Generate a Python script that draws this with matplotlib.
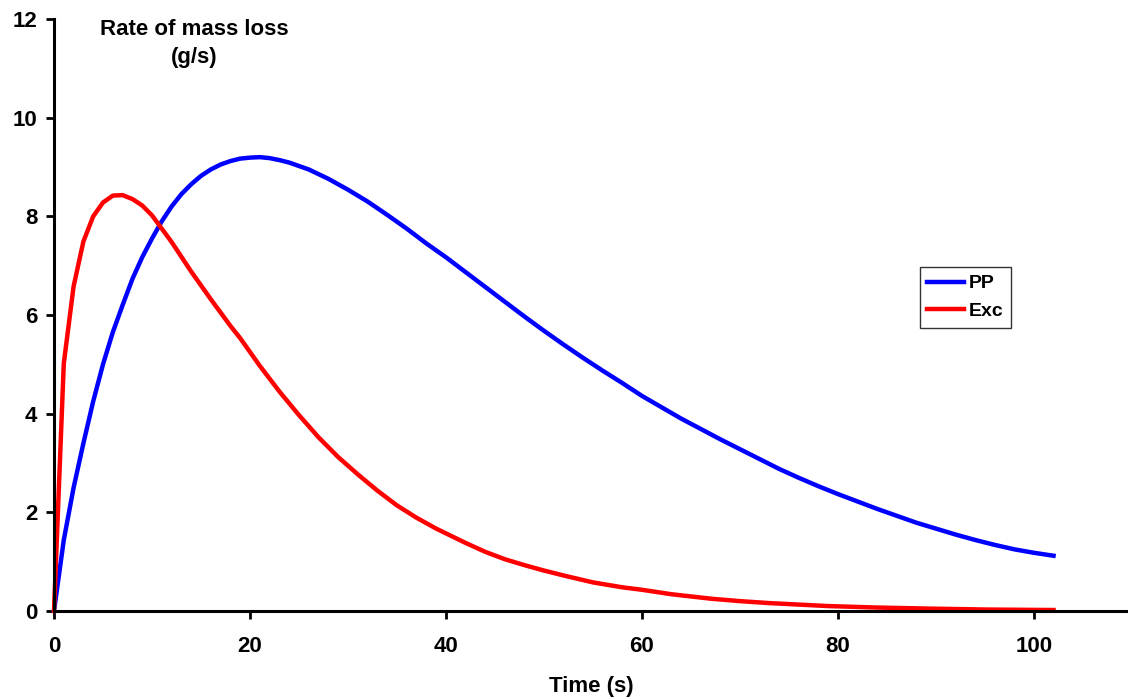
import matplotlib
matplotlib.use("Agg")
import matplotlib.pyplot as plt

plt.rcParams['font.family'] = ['Liberation Sans', 'DejaVu Sans']
plt.rcParams['font.weight'] = 'bold'

# PP series (time in s, rate in g/s)
pp_time = [0, 1, 2, 3, 4, 5, 6, 7, 8, 9, 10, 11, 12, 13, 14, 15, 16, 17, 18,
           19, 20, 21, 22, 23, 24, 26, 28, 30, 32, 34, 36, 38, 40, 42, 44, 46,
           48, 50, 52, 54, 56, 58, 60, 62, 64, 66, 68, 70, 72, 74, 76, 78, 80,
           82, 84, 86, 88, 90, 92, 94, 96, 98, 100, 102]
pp_rate = [0, 1.44, 2.5, 3.4, 4.25, 5.0, 5.65, 6.2, 6.73, 7.17, 7.55, 7.9,
           8.2, 8.45, 8.65, 8.82, 8.95, 9.05, 9.12, 9.17, 9.19, 9.2, 9.18,
           9.14, 9.09, 8.95, 8.76, 8.54, 8.3, 8.03, 7.75, 7.45, 7.17, 6.87,
           6.57, 6.27, 5.97, 5.68, 5.4, 5.13, 4.87, 4.62, 4.36, 4.13, 3.9,
           3.69, 3.48, 3.28, 3.08, 2.88, 2.7, 2.53, 2.37, 2.22, 2.07, 1.93,
           1.79, 1.67, 1.55, 1.44, 1.34, 1.25, 1.18, 1.12]

# Exc series
exc_time = [0, 1, 2, 3, 4, 5, 6, 7, 8, 9, 10, 11, 12, 13, 14, 15, 16, 17, 18,
            19, 21, 23, 25, 27, 29, 31, 33, 35, 37, 39, 42, 44, 46, 48, 50,
            52, 55, 58, 60, 63, 67, 70, 73, 76, 79, 84, 89, 95, 102]
exc_rate = [0, 5.02, 6.58, 7.49, 8.0, 8.28, 8.42, 8.43, 8.35, 8.22, 8.02, 7.75,
            7.48, 7.18, 6.88, 6.6, 6.32, 6.05, 5.78, 5.53, 4.97, 4.45, 3.97,
            3.52, 3.12, 2.77, 2.44, 2.14, 1.89, 1.67, 1.38, 1.2, 1.05, 0.93,
            0.82, 0.72, 0.58, 0.48, 0.43, 0.34, 0.25, 0.2, 0.16, 0.13, 0.1,
            0.07, 0.05, 0.03, 0.02]

x_ticks = [0, 20, 40, 60, 80, 100]
y_ticks = [0, 2, 4, 6, 8, 10, 12]

fig = plt.figure(figsize=(11.28, 6.99), dpi=100)
ax = fig.add_axes([54 / 1128, 88 / 699, 1074 / 1128, 592 / 699])

ax.plot(pp_time, pp_rate, color='#0000ff', lw=3.2, label='PP', clip_on=False)
ax.plot(exc_time, exc_rate, color='#ff0000', lw=3.2, label='Exc', clip_on=False)

ax.set_xlim(0, 109.6)
ax.set_ylim(0, 12)
ax.set_xticks(x_ticks)
ax.set_yticks(y_ticks)

for side in ['top', 'right']:
    ax.spines[side].set_visible(False)
for side in ['left', 'bottom']:
    ax.spines[side].set_linewidth(2.2)

ax.tick_params(axis='both', direction='out', length=6, width=2, labelsize=16)
ax.tick_params(axis='x', pad=12)
ax.tick_params(axis='y', pad=6)
for lbl in ax.get_xticklabels() + ax.get_yticklabels():
    lbl.set_fontweight('bold')

ax.set_xlabel('Time (s)', fontsize=16, fontweight='bold', labelpad=14)

fig.text(194 / 1128, 1 - 19 / 699, 'Rate of mass loss\n(g/s)', ha='center',
         va='top', fontsize=16, fontweight='bold', linespacing=1.45)

leg = ax.legend(loc='upper left', bbox_to_anchor=(0.806, 0.581),
                borderaxespad=0, fancybox=False, frameon=True,
                edgecolor='black', fontsize=14, handlelength=1.9,
                handletextpad=0.2, borderpad=0.4, labelspacing=0.5)
leg.get_frame().set_linewidth(1.0)
for t in leg.get_texts():
    t.set_fontweight('bold')

fig.savefig('out.png', dpi=100)
